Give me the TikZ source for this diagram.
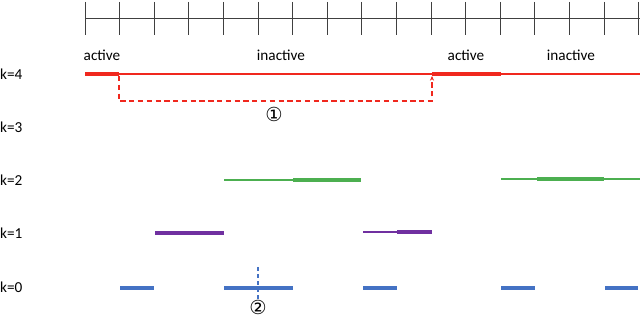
\documentclass[tikz,border=0pt]{standalone}
\usepackage{fontspec}
\setmainfont{Carlito}
\newfontfamily\circfont{DejaVu Sans}
\usetikzlibrary{arrows.meta, positioning}
\definecolor{myred}{HTML}{F0281E}
\definecolor{mygreen}{HTML}{4CAF50}
\definecolor{mypurple}{HTML}{7030A0}
\definecolor{myblue}{HTML}{4472C4}
\definecolor{mygray}{HTML}{404040}
\tikzset{
	rowlabel/.style={
			anchor=west,
			inner sep=0pt,
			font=\fontsize{13}{15}\selectfont
		},
	statelabel/.style={
			inner sep=0pt,
			font=\fontsize{13}{15}\selectfont
		},
	circlabel/.style={
			inner sep=0pt,
			font=\circfont\fontsize{16.5}{18}\selectfont
		},
	timetick/.style={
			draw=mygray,
			line width=0.8pt
		},
	thickbar/.style={
			line width=4.2pt
		},
	thinbar/.style={
			line width=0.9pt
		}
}

\begin{document}
\begin{tikzpicture}[x=0.03cm, y=-0.03cm]
  \useasboundingbox (0,0) rectangle (640,318);

  % time axis
  \draw[timetick] (85,18) -- (640,18);
  \foreach \i in {0,...,16}
    \draw[timetick] (85+34.6*\i,2) -- ++(0,33);

  \node[statelabel] (a1) at (102,55) {active};
  \node[statelabel] (i1) at (281,55) {inactive};
  \node[statelabel] (a2) at (466,55) {active};
  \node[statelabel] (i2) at (571,55) {inactive};

  \node[rowlabel] (k4) at (0,74) {k=4};
  \node[rowlabel] (k3) at (0,127) {k=3};
  \node[rowlabel] (k2) at (0,180) {k=2};
  \node[rowlabel] (k1) at (0,233) {k=1};
  \node[rowlabel] (k0) at (0,287) {k=0};

  % k=4
  \draw[thinbar, myred, line width=1.5pt] (119,74) -- (640,74);
  \draw[thickbar, myred] (85,74) -- (119,74);
  \draw[thickbar, myred] (432,74) -- (501,74);
  \coordinate (r1) at (119,76);
  \coordinate (r2) at (432,76);
  \draw[myred, line width=0.9pt, dash pattern=on 4.5pt off 3pt,
        -{Stealth[length=4pt,width=3.5pt]}]
    (r1) -- ++(0,25) -| (r2);
  \node[circlabel] (c1) at (274,114) {①};

  % k=2
  \draw[thinbar, mygreen] (224,180) -- (293,180);
  \draw[thickbar, mygreen] (293,180) -- (361,180);
  \draw[thinbar, mygreen] (501,179) -- (640,179);
  \draw[thickbar, mygreen] (537,179) -- (604,179);

  % k=1
  \draw[thickbar, mypurple] (155,233) -- (224,233);
  \draw[thinbar, mypurple] (363,232) -- (397,232);
  \draw[thickbar, mypurple] (397,232) -- (432,232);

  % k=0
  \foreach \xa/\xb in {120/154, 224/293, 363/397, 501/535, 605/638}
    \draw[thickbar, myblue] (\xa,288) -- (\xb,288);
  \node[circlabel] (c2) at (258,307) {②};
  \coordinate (v0) at (258,267);
  \draw[myblue, line width=0.9pt, dash pattern=on 3.5pt off 2.5pt]
    (v0) -- (c2.north);

\end{tikzpicture}
\end{document}
